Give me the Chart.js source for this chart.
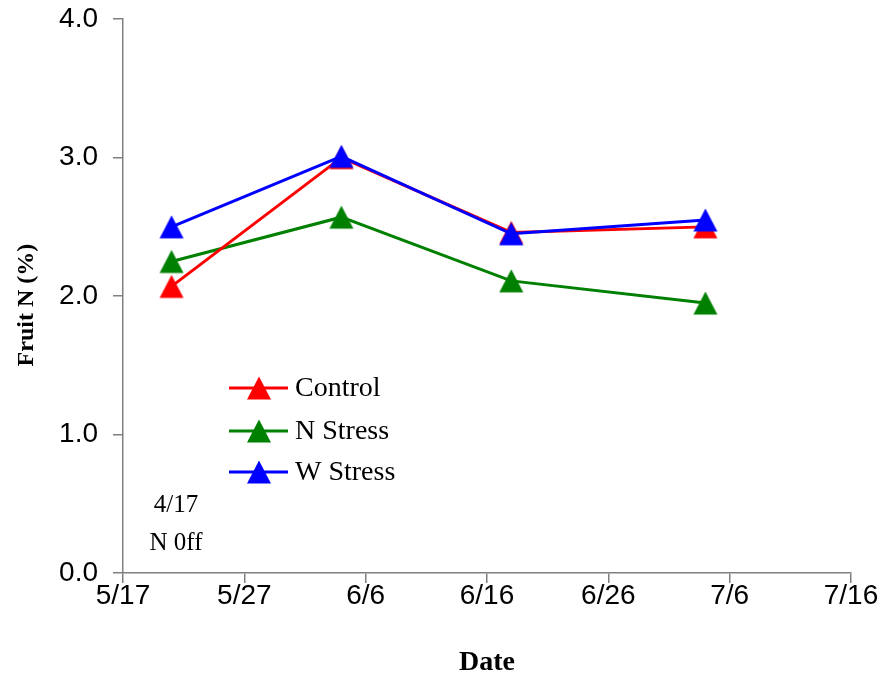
<!DOCTYPE html>
<html>
<head>
<meta charset="utf-8">
<script src="https://cdn.jsdelivr.net/npm/chart.js@4.4.1/dist/chart.umd.min.js"></script>
<style>
  html, body { margin: 0; padding: 0; background: #ffffff; }
  #wrap { width: 886px; height: 677px; }
</style>
</head>
<body>
<div id="wrap"><canvas id="c" width="886" height="677"></canvas></div>
<script>
// ---- data ----
const startDate = '5/17';
const sampleDates = ['5/21', '6/4', '6/18', '7/4'];
const controlN = [2.07, 3.00, 2.46, 2.50];
const nStressN = [2.25, 2.57, 2.11, 1.95];
const wStressN = [2.50, 3.01, 2.45, 2.55];
const xTickLabels = ['5/17', '5/27', '6/6', '6/16', '6/26', '7/6', '7/16'];
const yTickValues = [0, 1, 2, 3, 4];
const seriesNames = ['Control', 'N Stress', 'W Stress'];
const seriesColors = ['#ff0000', '#008000', '#0000ff'];
const noteLines = ['4/17', 'N 0ff'];

const monthStart = {5: 0, 6: 31, 7: 61};
function dayIndex(s) {
  const [m, d] = s.split('/').map(Number);
  return monthStart[m] + d;
}
const d0 = dayIndex(startDate);
const xs = sampleDates.map(s => dayIndex(s) - d0);
const xTickValues = xTickLabels.map(s => dayIndex(s) - d0);

function triangleImg(color) {
  const c = document.createElement('canvas');
  c.width = 26; c.height = 26;
  const g = c.getContext('2d');
  g.fillStyle = color;
  g.beginPath();
  g.moveTo(13, 1.5);
  g.lineTo(25, 24.5);
  g.lineTo(1, 24.5);
  g.closePath();
  g.fill();
  return c;
}
const markers = seriesColors.map(triangleImg);

const seriesValues = [controlN, nStressN, wStressN];
const drawOrder = [2, 3, 1];
const datasets = seriesNames.map((name, i) => ({
  label: name,
  data: xs.map((x, k) => ({x: x, y: seriesValues[i][k]})),
  borderColor: seriesColors[i],
  backgroundColor: seriesColors[i],
  borderWidth: 3,
  pointStyle: markers[i],
  pointRadius: 13,
  pointHoverRadius: 13,
  tension: 0,
  order: drawOrder[i]
}));

const legendPlugin = {
  id: 'customLegend',
  afterDraw(chart) {
    const ctx = chart.ctx;
    ctx.save();
    const rowsY = [388, 431, 472];
    seriesNames.forEach((name, i) => {
      const y = rowsY[i];
      ctx.strokeStyle = seriesColors[i];
      ctx.lineWidth = 3;
      ctx.beginPath();
      ctx.moveTo(229, y);
      ctx.lineTo(288, y);
      ctx.stroke();
      ctx.drawImage(markers[i], 259 - 13, y - 13);
      ctx.fillStyle = '#000000';
      ctx.font = '28px "Liberation Serif", "Times New Roman", serif';
      ctx.textBaseline = 'middle';
      ctx.textAlign = 'left';
      ctx.fillText(name, 295, y + 1);
    });
    ctx.font = '25px "Liberation Serif", "Times New Roman", serif';
    ctx.textAlign = 'center';
    ctx.fillStyle = '#000000';
    ctx.fillText(noteLines[0], 176, 505);
    ctx.fillText(noteLines[1], 176, 543);
    ctx.restore();
  }
};

new Chart(document.getElementById('c'), {
  type: 'line',
  data: { datasets: datasets },
  options: {
    responsive: false,
    animation: false,
    devicePixelRatio: 1,
    layout: { padding: { left: 0, right: 35, top: 0, bottom: 0 } },
    plugins: {
      legend: { display: false },
      tooltip: { enabled: false }
    },
    scales: {
      x: {
        type: 'linear',
        min: xTickValues[0],
        max: xTickValues[xTickValues.length - 1],
        afterBuildTicks(scale) {
          scale.ticks = xTickValues.map(v => ({value: v}));
        },
        afterFit(scale) { scale.height = 104; },
        ticks: {
          autoSkip: false,
          maxRotation: 0,
          padding: -4,
          color: '#000000',
          font: { family: '"Liberation Sans", Arial, sans-serif', size: 28 },
          callback: (v) => {
            const i = xTickValues.indexOf(v);
            return i >= 0 ? xTickLabels[i] : '';
          }
        },
        grid: { drawOnChartArea: false, drawTicks: true, tickLength: 10, color: '#808080', lineWidth: 1.5 },
        border: { display: true, color: '#808080', width: 1.5 },
        title: {
          display: true,
          text: 'Date',
          color: '#000000',
          font: { family: '"Liberation Serif", "Times New Roman", serif', size: 28, weight: 'bold' },
          padding: { top: 0, bottom: -3 }
        }
      },
      y: {
        min: 0,
        max: 4,
        afterBuildTicks(scale) {
          scale.ticks = yTickValues.map(v => ({value: v}));
        },
        afterFit(scale) { scale.width = 123; },
        ticks: {
          padding: 15,
          color: '#000000',
          font: { family: '"Liberation Sans", Arial, sans-serif', size: 28, lineHeight: 0.3 },
          callback: (v) => Number(v).toFixed(1)
        },
        grid: { drawOnChartArea: false, drawTicks: true, tickLength: 10, color: '#808080', lineWidth: 1.5 },
        border: { display: true, color: '#808080', width: 1.5 },
        title: {
          display: true,
          text: 'Fruit N (%)   ',
          color: '#000000',
          font: { family: '"Liberation Serif", "Times New Roman", serif', size: 24, weight: 'bold' },
          padding: { top: 12, bottom: 0 }
        }
      }
    }
  },
  plugins: [legendPlugin]
});
</script>
</body>
</html>
